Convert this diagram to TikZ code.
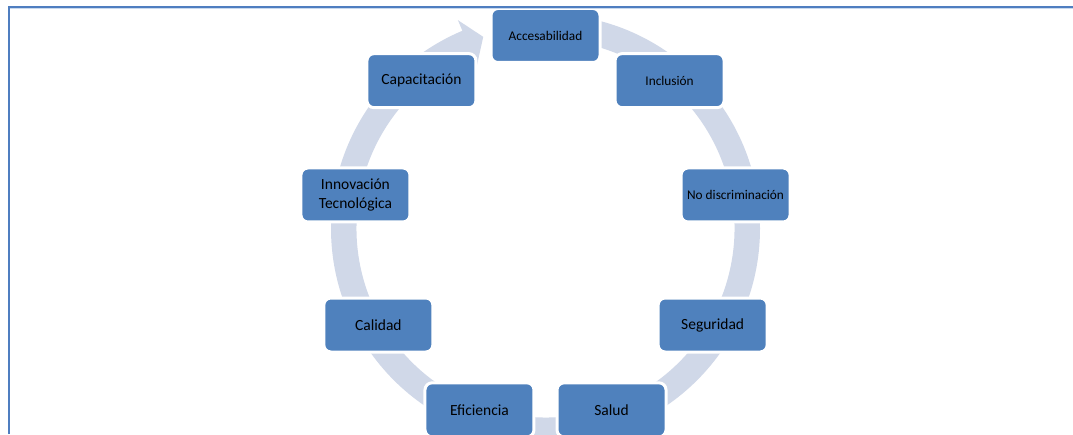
\documentclass[tikz,border=0pt]{standalone}
\usepackage{fontspec}
\setmainfont{Carlito}
\begin{document}
\begin{tikzpicture}[x=1pt,y=1pt,
  ringfill/.style={fill=ringblue, draw=none},
  cyclebox/.style={rectangle, rounded corners=7pt, fill=boxblue, draw=white,
    line width=3pt, minimum width=109pt, minimum height=54pt, inner sep=2pt,
    align=center, text=black, font=\fontsize{15.5}{18.5}\selectfont},
  smalltext/.style={font=\fontsize{13.3}{16}\selectfont},
  framestroke/.style={draw=frameblue, line width=2pt}
]
\definecolor{boxblue}{HTML}{4F81BD}
\definecolor{ringblue}{HTML}{D0D8E8}
\definecolor{frameblue}{HTML}{4F7EC0}
\definecolor{framelight}{HTML}{C9D9EE}
\useasboundingbox (0,0) rectangle (1073,434);
\fill[white] (0,0) rectangle (1073,434);

% circular arrow behind the boxes
\begin{scope}[shift={(545.5,205.5)}]
  \coordinate (C) at (0,0);
  \path[ringfill] (90:214.5) arc[start angle=90, end angle=-247.2, radius=214.5]
    -- (-247.2:226) -- (-252:201.5) -- (-247.2:177) -- (-247.2:189)
    arc[start angle=-247.2, end angle=90, radius=189] -- cycle;

  \node[cyclebox, smalltext] (acc) at (90:193) {Accesabilidad};
  \node[cyclebox, smalltext] (inc) at (50:193) {Inclusión};
  \node[cyclebox, smalltext] (nod) at (10:193) {No discriminación};
  \node[cyclebox] (seg) at (-30:193) {Seguridad};
  \node[cyclebox] (sal) at (-70:193) {Salud};
  \node[cyclebox] (efi) at (-110:193) {Eficiencia};
  \node[cyclebox] (cal) at (-150:193) {Calidad};
  \node[cyclebox] (inn) at (170:193) {Innovación\\Tecnológica};
  \node[cyclebox] (cap) at (130:193) {Capacitación};
\end{scope}

% page frame
\draw[framelight, line width=1pt] (9.5,425.5) -- (1073,425.5);
\draw[framestroke] (8.5,0) -- (8.5,427) -- (1073,427);
\end{tikzpicture}
\end{document}
